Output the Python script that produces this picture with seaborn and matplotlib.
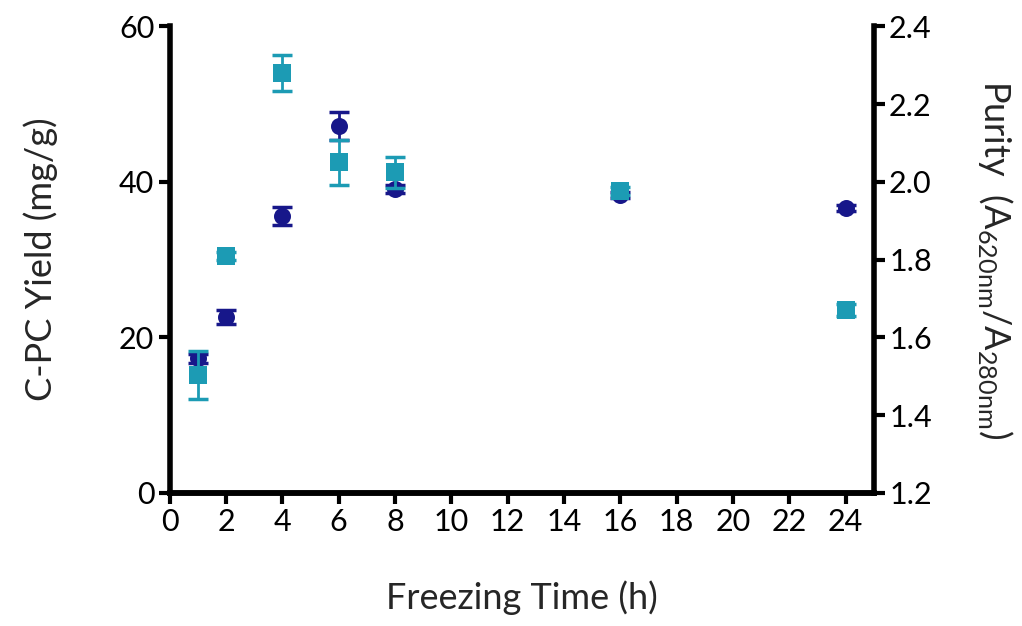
import matplotlib
matplotlib.use('Agg')
import matplotlib.pyplot as plt
import seaborn as sns
import pandas as pd

# freezing time (h)
time_h = [1, 2, 4, 6, 8, 16, 24]

# C-PC yield (mg/g), left axis, circles
yield_mg = [17.3, 22.6, 35.6, 47.2, 39.1, 38.3, 36.6]
yield_err = [0.6, 0.9, 1.2, 1.8, 0.5, 0.4, 0.4]

# purity A620/A280, right axis, squares
purity = [1.503, 1.81, 2.279, 2.05, 2.025, 1.976, 1.67]
purity_err = [0.062, 0.01, 0.046, 0.058, 0.04, 0.01, 0.015]

x_ticks = list(range(0, 25, 2))

navy = '#17178a'
teal = '#1c9bb4'

sns.set_theme(style='ticks')
plt.rcParams['font.family'] = ['Lato', 'DejaVu Sans']
plt.rcParams['mathtext.fontset'] = 'custom'
plt.rcParams['mathtext.rm'] = 'Lato'

df_y = pd.DataFrame({'time': time_h, 'val': yield_mg})
df_p = pd.DataFrame({'time': time_h, 'val': purity})

fig = plt.figure(figsize=(10.22, 6.26), dpi=100)
ax = fig.add_axes([0.166, 0.2125, 0.689, 0.7455])
ax2 = ax.twinx()

ax.errorbar(time_h, yield_mg, yerr=yield_err, fmt='none', ecolor=navy,
            elinewidth=2, capsize=7, capthick=2.5, zorder=3)
sns.scatterplot(data=df_y, x='time', y='val', ax=ax, color=navy, marker='o',
                s=150, edgecolor=navy, linewidth=0, zorder=4)

ax2.errorbar(time_h, purity, yerr=purity_err, fmt='none', ecolor=teal,
             elinewidth=2, capsize=7, capthick=2.5, zorder=3)
sns.scatterplot(data=df_p, x='time', y='val', ax=ax2, color=teal, marker='s',
                s=150, edgecolor=teal, linewidth=0, zorder=4)

ax.set_xlim(0, 25)
ax.set_ylim(0, 60)
ax2.set_ylim(1.2, 2.4)
ax.set_xticks(x_ticks)
ax.set_yticks([0, 20, 40, 60])
ax2.set_yticks([1.2, 1.4, 1.6, 1.8, 2.0, 2.2, 2.4])
ax2.set_yticklabels(['1.2', '1.4', '1.6', '1.8', '2.0', '2.2', '2.4'])

for a in (ax, ax2):
    for side in ('left', 'right', 'bottom'):
        a.spines[side].set_linewidth(4)
        a.spines[side].set_color('black')
    a.spines['top'].set_visible(False)
    a.tick_params(width=3, length=8, labelsize=22, colors='black', pad=3)
ax.spines['right'].set_visible(False)
ax2.spines['left'].set_visible(False)

ax.set_xlabel('Freezing Time (h)', fontsize=26, labelpad=32)
ax.set_ylabel('C-PC Yield (mg/g)', fontsize=26, labelpad=44)
ax2.set_ylabel(r'Purity  (A$_{\mathregular{620nm}}$/A$_{\mathregular{280nm}}$)',
               fontsize=26, rotation=270, labelpad=60)

fig.savefig('out.png', dpi=100, facecolor='white')
